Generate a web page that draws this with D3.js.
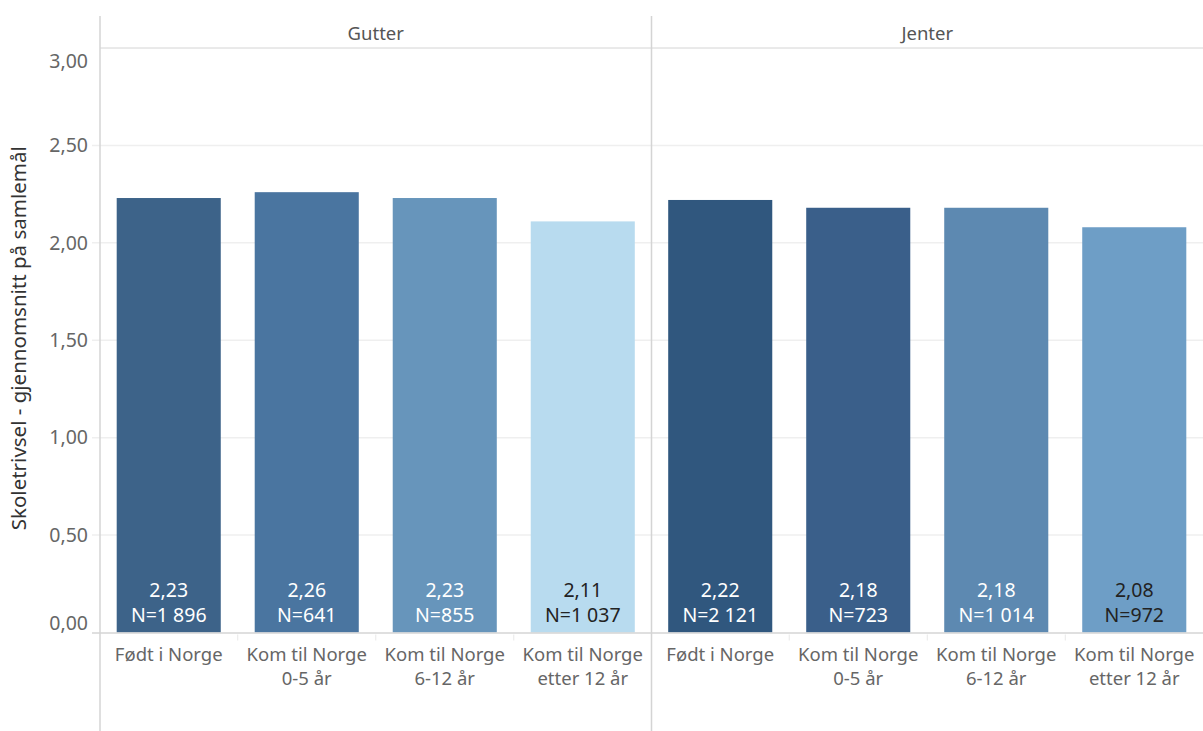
<!DOCTYPE html>
<html>
<head>
<meta charset="utf-8">
<script src="https://cdn.jsdelivr.net/npm/d3@7"></script>
<style>
    body { margin: 0; background: #fff; }
    text { font-family: "Noto Sans", Roboto, sans-serif; }
</style>
</head>
<body>
<div id="chart"></div>
<script>
    // data
    const panels = ["Gutter", "Jenter"];
    const categories = ["Født i Norge", "Kom til Norge\n0-5 år", "Kom til Norge\n6-12 år", "Kom til Norge\netter 12 år"];
    const gutterValues = [2.23, 2.26, 2.23, 2.11];
    const jenterValues = [2.22, 2.18, 2.18, 2.08];
    const gutterN = [1896, 641, 855, 1037];
    const jenterN = [2121, 723, 1014, 972];
    const gutterColors = ["#3d6389", "#4a75a0", "#6795bb", "#b8dbef"];
    const jenterColors = ["#30577e", "#3a5f8a", "#5d89b1", "#6e9ec6"];
    const yTicks = [0, 0.5, 1, 1.5, 2, 2.5, 3];

    let width = 1203, height = 731;
    let margin = { top: 16, right: 0, bottom: 0, left: 100 };
    let headerH = 32;
    let baseY = 632.5;

    let locale = d3.formatLocale({ decimal: ",", thousands: "\u00a0", grouping: [3], currency: ["", ""] });
    let fmtVal = locale.format(".2f");
    let fmtN = locale.format(",d");

    let rows = [];
    panels.forEach(function (p, pi) {
        let vals = pi == 0 ? gutterValues : jenterValues;
        let ns = pi == 0 ? gutterN : jenterN;
        let cols = pi == 0 ? gutterColors : jenterColors;
        categories.forEach(function (c, ci) {
            rows.push({ panel: p, cat: c, value: vals[ci], n: ns[ci], color: cols[ci] });
        });
    });

    let svg = d3.select("#chart")
        .append("svg")
        .attr("width", width)
        .attr("height", height);

    let fx = d3.scaleBand()
        .domain(panels)
        .range([margin.left, width]);

    let x = d3.scaleBand()
        .domain(categories)
        .range([0, fx.bandwidth()])
        .paddingInner(0.246)
        .paddingOuter(0.121);

    let y = d3.scaleLinear()
        .domain([0, 3])
        .range([baseY, margin.top + headerH]);

    // grid lines
    svg.append("g")
        .selectAll("line")
        .data(yTicks.filter(d => d > 0 && d < 3))
        .join("line")
        .attr("x1", 92).attr("x2", width)
        .attr("y1", d => y(d)).attr("y2", d => y(d))
        .attr("stroke", "#efefef")
        .attr("stroke-width", 1.5);

    // y tick labels
    svg.append("g")
        .selectAll("text")
        .data(yTicks)
        .join("text")
        .attr("x", 88)
        .attr("y", d => y(d))
        .attr("dy", function (d) {
            if (d == 3) return "1.05em";
            if (d == 0) return "-0.15em";
            return "0.35em";
        })
        .attr("text-anchor", "end")
        .attr("fill", "#666")
        .style("font-size", "19.5px")
        .text(d => fmtVal(d));

    // y axis title
    svg.append("text")
        .attr("transform", `translate(26, ${(y(0) + y(3)) / 2 - 2}) rotate(-90)`)
        .attr("text-anchor", "middle")
        .attr("fill", "#333")
        .style("font-size", "20.5px")
        .text("Skoletrivsel - gjennomsnitt på samlemål");

    // panel headers
    svg.append("g")
        .selectAll("text")
        .data(panels)
        .join("text")
        .attr("x", d => fx(d) + fx.bandwidth() / 2)
        .attr("y", margin.top + headerH / 2 + 2)
        .attr("dy", "0.35em")
        .attr("text-anchor", "middle")
        .attr("fill", "#555")
        .style("font-size", "18.5px")
        .text(d => d);

    // bars
    let bars = svg.append("g")
        .selectAll("g")
        .data(rows)
        .join("g")
        .attr("transform", d => `translate(${fx(d.panel) + x(d.cat)}, 0)`);

    bars.append("rect")
        .attr("x", 0)
        .attr("y", d => y(d.value))
        .attr("width", x.bandwidth())
        .attr("height", d => y(0) - y(d.value))
        .attr("fill", d => d.color);

    function labelColor(c) {
        return d3.hsl(c).l > 0.6 ? "#222" : "#fff";
    }

    bars.append("text")
        .attr("x", x.bandwidth() / 2)
        .attr("y", y(0) - 42)
        .attr("dy", "0.35em")
        .attr("text-anchor", "middle")
        .attr("fill", d => labelColor(d.color))
        .style("font-size", "19.5px")
        .text(d => fmtVal(d.value));

    bars.append("text")
        .attr("x", x.bandwidth() / 2)
        .attr("y", y(0) - 17)
        .attr("dy", "0.35em")
        .attr("text-anchor", "middle")
        .attr("fill", d => labelColor(d.color))
        .style("font-size", "19.5px")
        .text(d => "N=" + fmtN(d.n));

    // x category labels
    let xl = svg.append("g")
        .selectAll("text")
        .data(rows)
        .join("text")
        .attr("x", d => fx(d.panel) + x(d.cat) + x.bandwidth() / 2)
        .attr("y", 655)
        .attr("text-anchor", "middle")
        .attr("fill", "#666")
        .style("font-size", "18.5px");

    xl.selectAll("tspan")
        .data(d => d.cat.split("\n"))
        .join("tspan")
        .attr("x", function () { return d3.select(this.parentNode).attr("x"); })
        .attr("y", (d, i) => 655 + i * 24)
        .attr("dy", "0.35em")
        .text(d => d);

    // small separator ticks under the baseline
    let sep = [];
    panels.forEach(function (p) {
        categories.slice(1).forEach(function (c) {
            sep.push(fx(p) + x(c) - (x.step() - x.bandwidth()) / 2);
        });
    });
    svg.append("g")
        .selectAll("line")
        .data(sep)
        .join("line")
        .attr("x1", d => d).attr("x2", d => d)
        .attr("y1", baseY + 2).attr("y2", baseY + 8)
        .attr("stroke", "#e8e8e8");

    // frame lines
    svg.append("line")
        .attr("x1", margin.left).attr("x2", width)
        .attr("y1", margin.top + headerH).attr("y2", margin.top + headerH)
        .attr("stroke", "#d4d4d4");

    svg.append("line")
        .attr("x1", 92).attr("x2", width)
        .attr("y1", baseY + 0.5).attr("y2", baseY + 0.5)
        .attr("stroke", "#d4d4d4")
        .attr("stroke-width", 1.5);

    svg.append("g")
        .selectAll("line")
        .data(panels)
        .join("line")
        .attr("x1", d => fx(d)).attr("x2", d => fx(d))
        .attr("y1", margin.top).attr("y2", height)
        .attr("stroke", "#d4d4d4")
        .attr("stroke-width", 1.5);
</script>
</body>
</html>
